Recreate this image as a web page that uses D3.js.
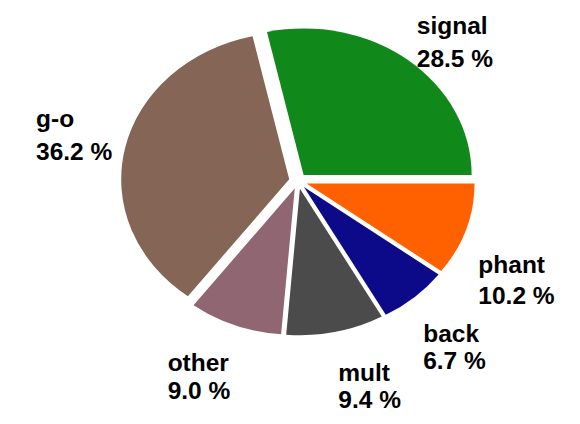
<!DOCTYPE html>
<html>
<head>
<meta charset="utf-8">
<script src="https://cdn.jsdelivr.net/npm/d3@7"></script>
<style>
  html, body { margin: 0; padding: 0; background: #ffffff; }
  svg { display: block; }
  text { font-family: "Liberation Sans", Arial, Helvetica, sans-serif; font-weight: bold; fill: #000; }
</style>
</head>
<body>
<svg id="chart" width="580" height="424"></svg>
<script>
// Slice data, listed counter-clockwise starting at 3 o'clock
const categories = ["signal", "g-o", "other", "mult", "back", "phant"];
const percents   = [28.5, 36.2, 9.0, 9.4, 6.7, 10.2];
const colors     = ["#11881a", "#856656", "#906672", "#4b4b4b", "#0c0a88", "#ff6100"];

// Layout
const cx = 298, cy = 181;       // pie centre
const R = 168;                  // radius before the tilt
const tilt = 0.872;             // vertical squash of the tilted pie
const explode = 9;              // every slice pushed out along its mid angle
const labelR = 190;             // label anchor radius
const fontSize = 24.5, ascent = 17.5;
// per-label fine tuning: first-line shift and line spacing
const labelTune = {
  "signal": { dy: 1.5, gap: 33 },
  "g-o":    { dy: -13.5, gap: 33 },
  "phant":  { dy: 15, gap: 31 },
  "back":   { dy: 0.5, gap: 27.5 },
  "mult":   { dy: -3, gap: 27 },
  "other":  { dy: -5, gap: 27.5 }
};

const svg = d3.select("#chart");

// Start at 3 o'clock (d3 angle PI/2) and run counter-clockwise
const pie = d3.pie()
  .sort(null)
  .value(d => d.v)
  .startAngle(Math.PI / 2)
  .endAngle(Math.PI / 2 - 2 * Math.PI);

const data = categories.map((c, i) => ({ name: c, v: percents[i], color: colors[i] }));
const arcs = pie(data);

const arc = d3.arc().innerRadius(0).outerRadius(R);

const g = svg.append("g")
  .attr("transform", `translate(${cx},${cy}) scale(1,${tilt})`);

g.selectAll("path")
  .data(arcs)
  .join("path")
  .attr("d", arc)
  .attr("fill", d => d.data.color)
  .attr("transform", d => {
    const a = (d.startAngle + d.endAngle) / 2;
    return `translate(${explode * Math.sin(a)},${-explode * Math.cos(a)})`;
  });

// Labels: name on the first line, percentage on the second
const labels = svg.append("g");
arcs.forEach(d => {
  const a = (d.startAngle + d.endAngle) / 2;      // d3 angle (0 = up, clockwise)
  const s = Math.cos(a), c = Math.sin(a);          // math sin / cos of the mid angle
  const tune = labelTune[d.data.name] || { dy: 0, gap: 31 };
  const ax = cx + labelR * c;
  const ay = cy - labelR * s;
  // upper labels hang on the first baseline, lower ones on the first line's top
  const base1 = (s > 0 ? ay : ay + ascent) + tune.dy;

  const t = labels.append("g");
  const l1 = t.append("text").attr("font-size", fontSize).attr("y", base1).text(d.data.name);
  const l2 = t.append("text").attr("font-size", fontSize).attr("y", base1 + tune.gap)
    .text(d.data.v.toFixed(1) + " %");
  const w = Math.max(l1.node().getComputedTextLength(), l2.node().getComputedTextLength());
  const x0 = c >= 0 ? ax : ax - w;
  l1.attr("x", x0);
  l2.attr("x", x0);
});
</script>
</body>
</html>
